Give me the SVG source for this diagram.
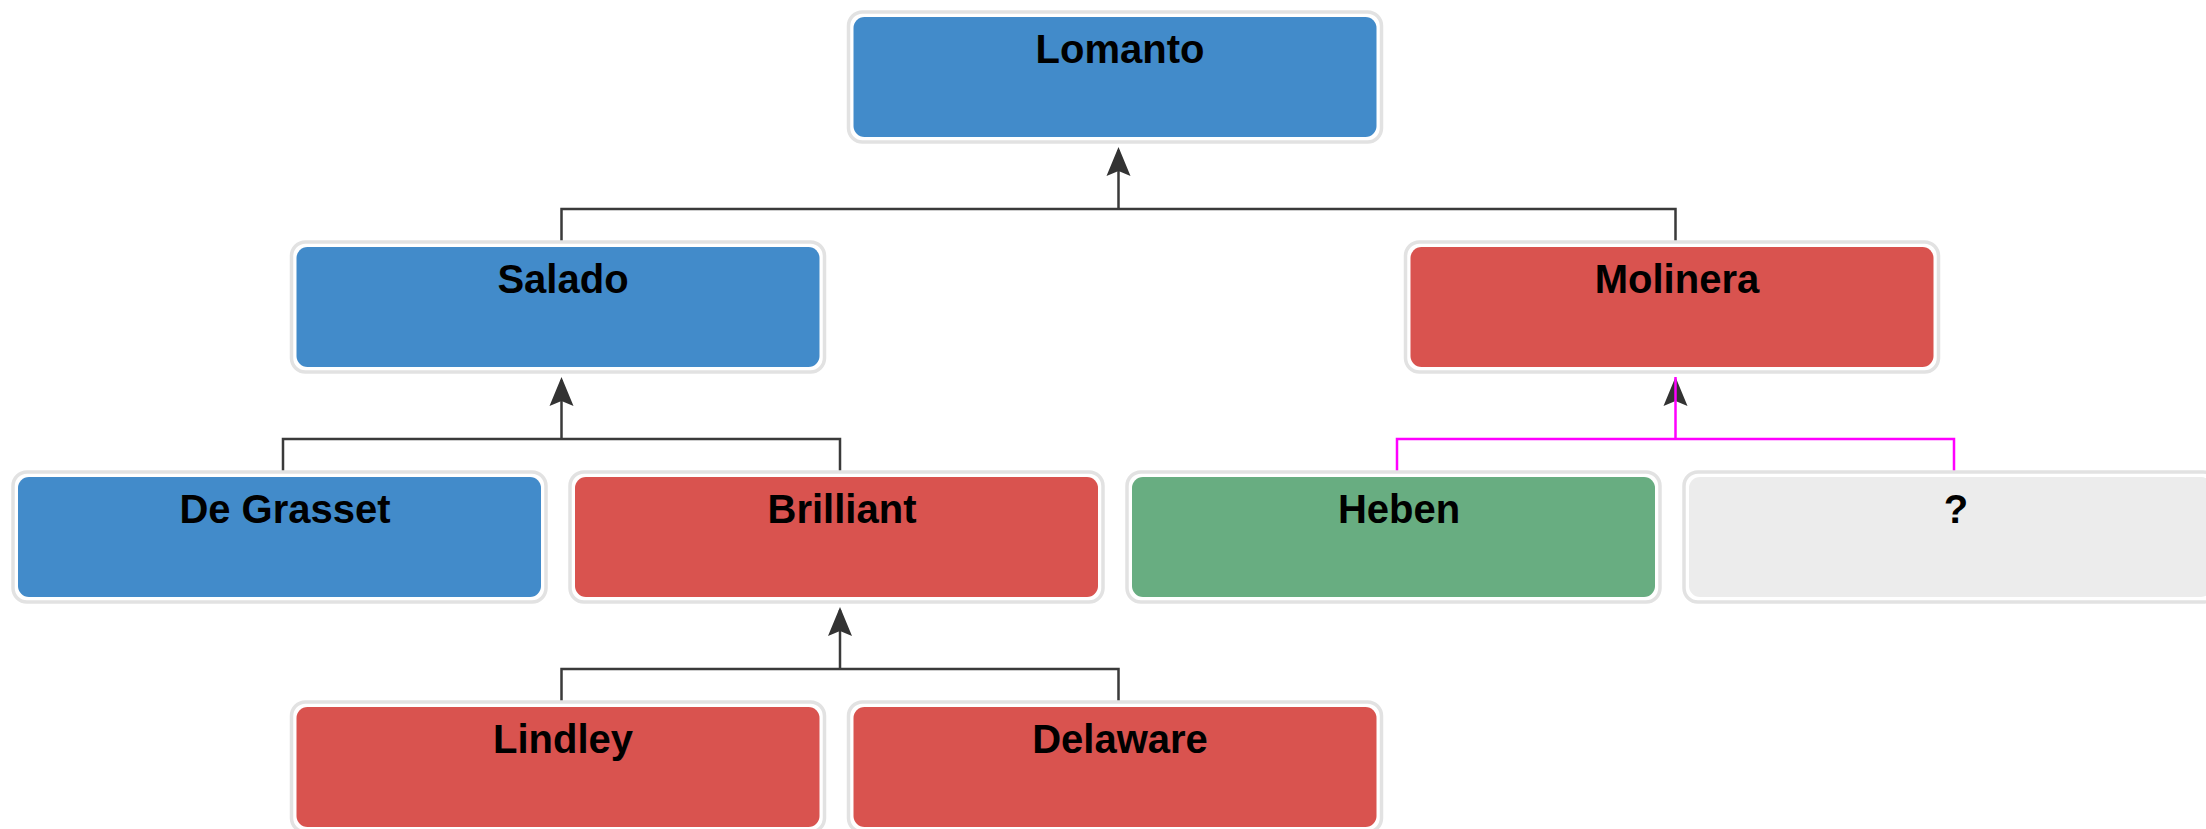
<svg xmlns="http://www.w3.org/2000/svg" width="2206" height="829" viewBox="0 0 2206 829">
<style>
.frame{fill:#ffffff;stroke:#e2e2e2;stroke-width:3.5}
.box{stroke:none}
.blue{fill:#428bca}
.red{fill:#d9534f}
.green{fill:#68ad81}
.grey{fill:#ececec}
.lbl{font-family:"Liberation Sans",Arial,sans-serif;font-weight:bold;font-size:40px;fill:#000;text-anchor:middle}
.link{fill:none;stroke:#3a3a3a;stroke-width:2.5}
.pink{fill:none;stroke:#ff00ff;stroke-width:2.5}
.head{fill:#333333}
</style>
<defs>
<path id="ah" d="M0,0 L12,29 L0,24 L-12,29 Z"/>
</defs>
<rect width="2206" height="829" fill="#ffffff"/>
<g id="connectors">
<polyline class="link" points="561.5,244 561.5,209 1675.5,209 1675.5,244"/>
<line class="link" x1="1118.5" y1="209" x2="1118.5" y2="150"/>
<use href="#ah" class="head" x="1118.5" y="147"/>
<polyline class="link" points="283,474 283,439 840,439 840,474"/>
<line class="link" x1="561.5" y1="439" x2="561.5" y2="380"/>
<use href="#ah" class="head" x="561.5" y="377"/>
<polyline class="link" points="561.5,704 561.5,669 1118.5,669 1118.5,704"/>
<line class="link" x1="840" y1="669" x2="840" y2="610"/>
<use href="#ah" class="head" x="840" y="607"/>
<use href="#ah" class="head" x="1675.5" y="377"/>
<polyline class="pink" points="1397,474 1397,439 1954,439 1954,474"/>
<line class="pink" x1="1675.5" y1="439" x2="1675.5" y2="377"/>
</g>
<g id="node-lomanto">
<rect class="frame" x="848.5" y="12" width="533" height="130" rx="14"/>
<rect class="box blue" x="853.5" y="17" width="523" height="120" rx="11"/>
<text class="lbl" x="1120" y="63">Lomanto</text>
</g>
<g id="node-salado">
<rect class="frame" x="291.5" y="242" width="533" height="130" rx="14"/>
<rect class="box blue" x="296.5" y="247" width="523" height="120" rx="11"/>
<text class="lbl" x="563" y="293">Salado</text>
</g>
<g id="node-molinera">
<rect class="frame" x="1405.5" y="242" width="533" height="130" rx="14"/>
<rect class="box red" x="1410.5" y="247" width="523" height="120" rx="11"/>
<text class="lbl" x="1677" y="293">Molinera</text>
</g>
<g id="node-degrasset">
<rect class="frame" x="13" y="472" width="533" height="130" rx="14"/>
<rect class="box blue" x="18" y="477" width="523" height="120" rx="11"/>
<text class="lbl" x="285" y="523">De Grasset</text>
</g>
<g id="node-brilliant">
<rect class="frame" x="570" y="472" width="533" height="130" rx="14"/>
<rect class="box red" x="575" y="477" width="523" height="120" rx="11"/>
<text class="lbl" x="842" y="523">Brilliant</text>
</g>
<g id="node-heben">
<rect class="frame" x="1127" y="472" width="533" height="130" rx="14"/>
<rect class="box green" x="1132" y="477" width="523" height="120" rx="11"/>
<text class="lbl" x="1399" y="523">Heben</text>
</g>
<g id="node-unknown">
<rect class="frame" x="1684" y="472" width="533" height="130" rx="14"/>
<rect class="box grey" x="1689" y="477" width="523" height="120" rx="11"/>
<text class="lbl" x="1956" y="523">?</text>
</g>
<g id="node-lindley">
<rect class="frame" x="291.5" y="702" width="533" height="130" rx="14"/>
<rect class="box red" x="296.5" y="707" width="523" height="120" rx="11"/>
<text class="lbl" x="563" y="753">Lindley</text>
</g>
<g id="node-delaware">
<rect class="frame" x="848.5" y="702" width="533" height="130" rx="14"/>
<rect class="box red" x="853.5" y="707" width="523" height="120" rx="11"/>
<text class="lbl" x="1120" y="753">Delaware</text>
</g>
</svg>
